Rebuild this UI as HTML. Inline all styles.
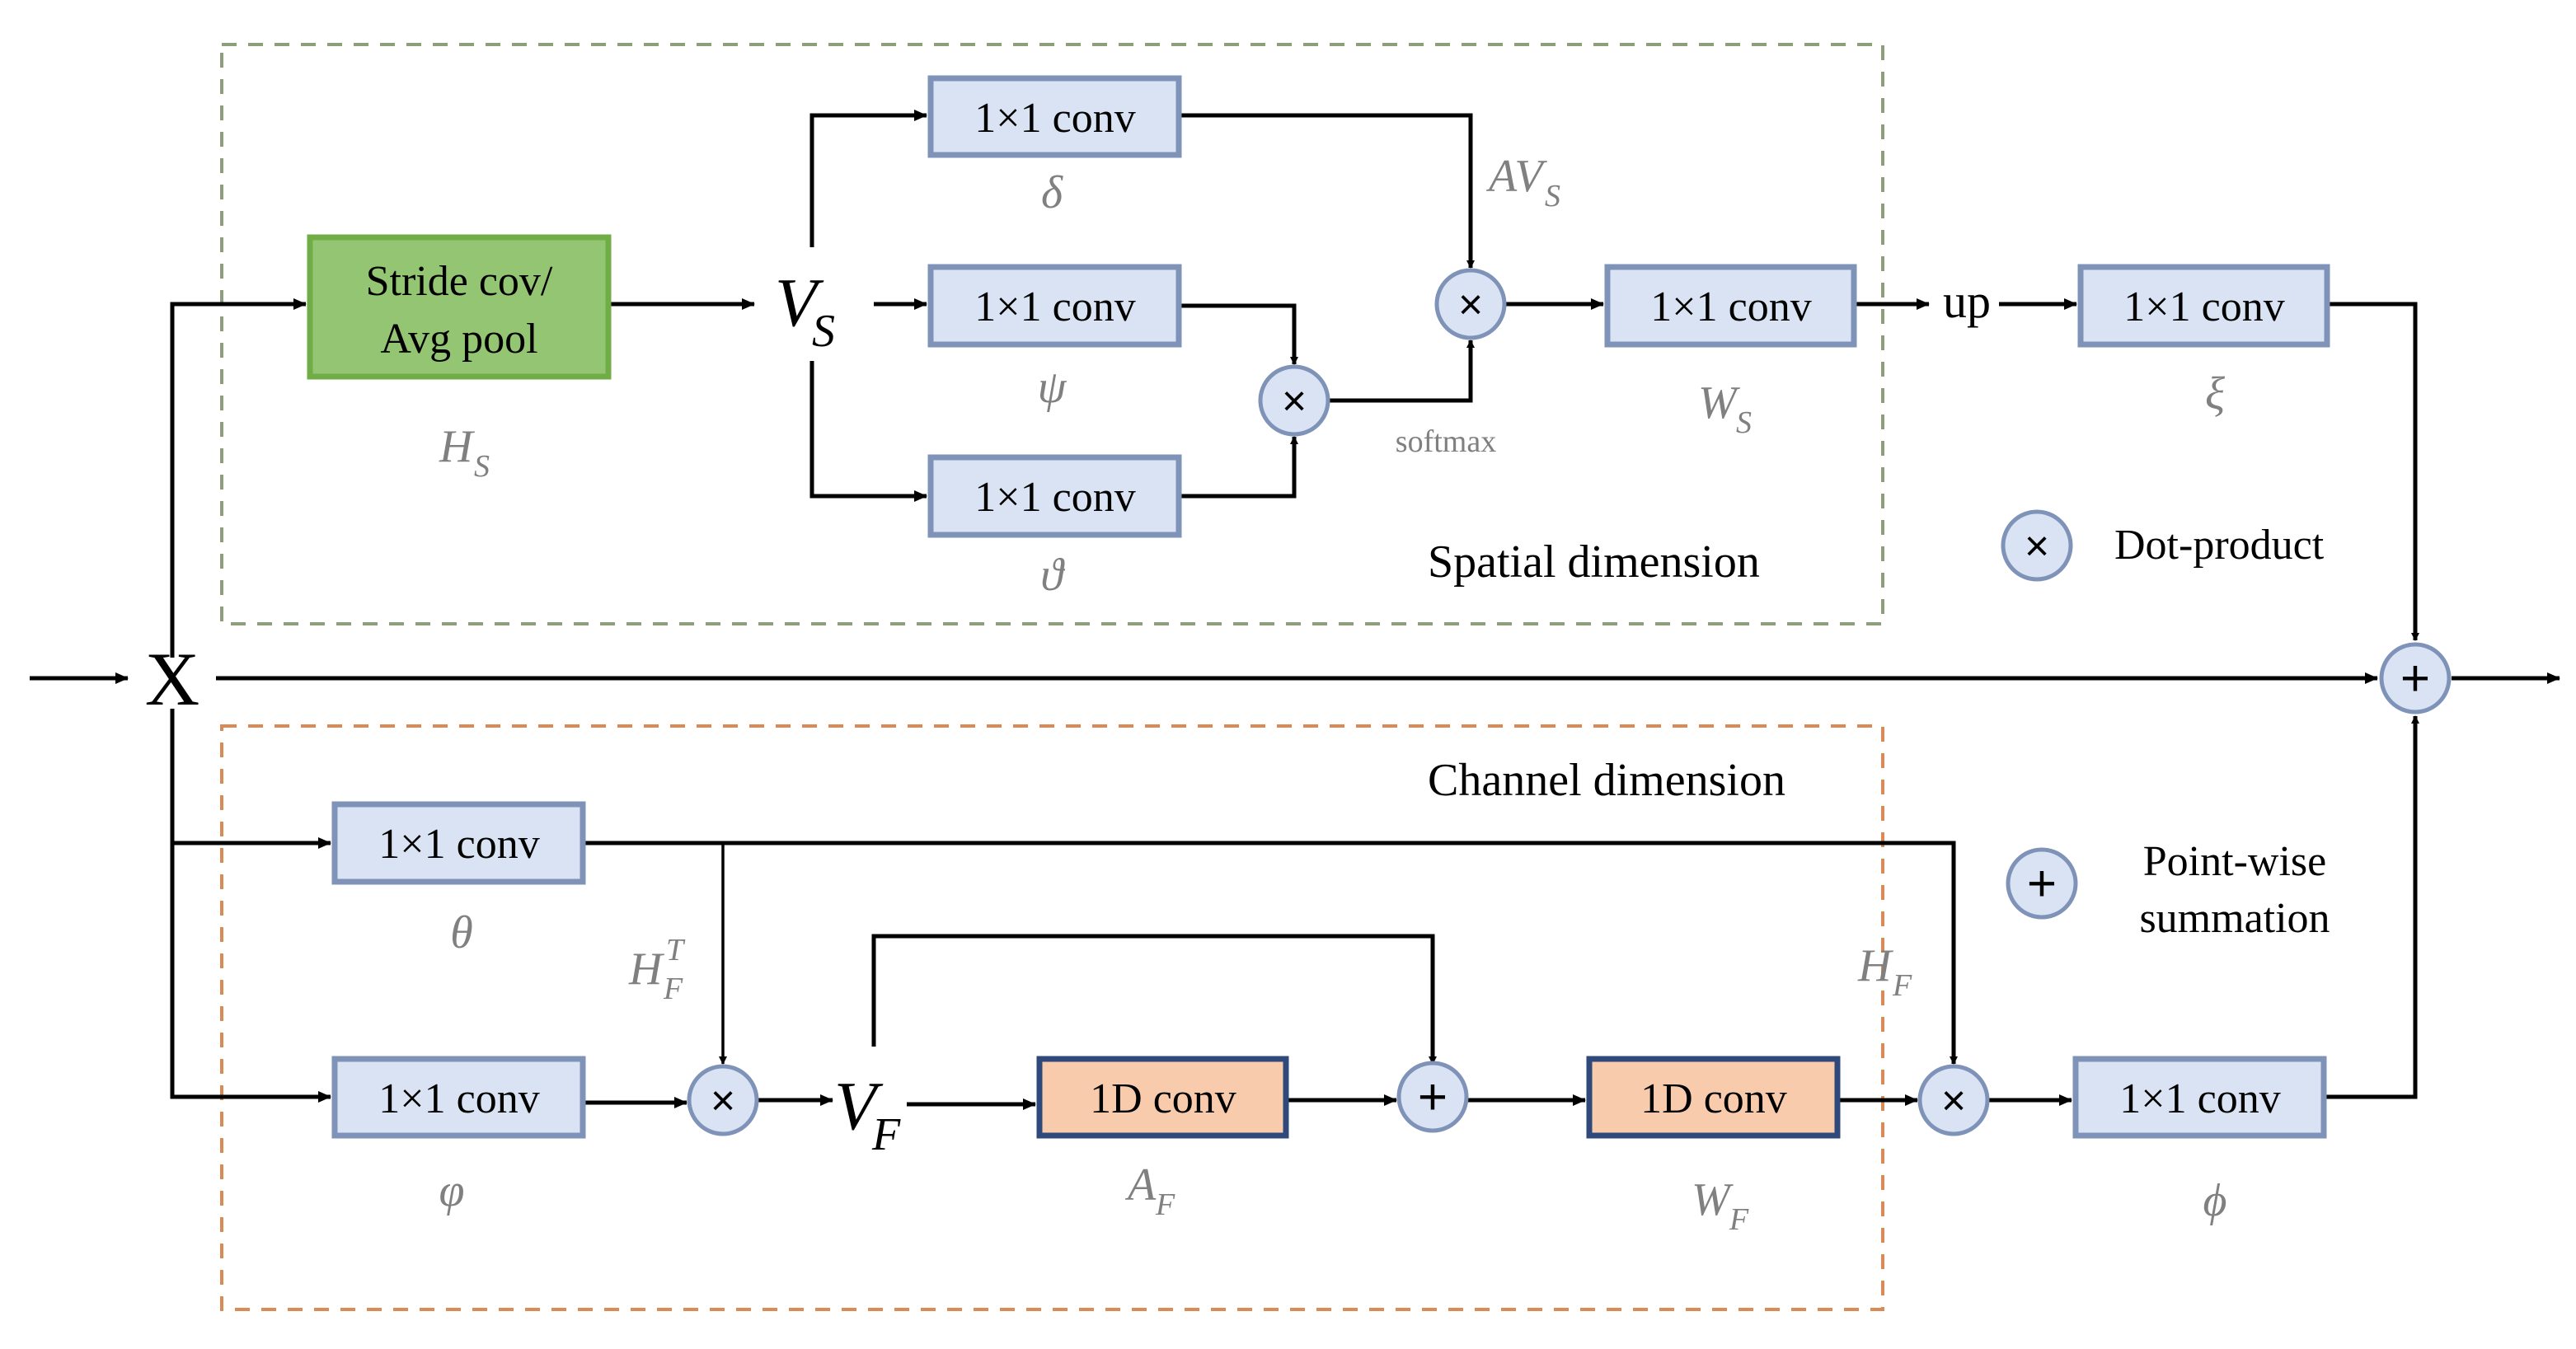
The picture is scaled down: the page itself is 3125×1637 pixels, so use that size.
<!DOCTYPE html>
<html><head><meta charset="utf-8"><style>
html,body{margin:0;padding:0;background:#fff;}
svg{display:block;}
</style></head><body>
<svg width="3125" height="1637" viewBox="0 0 3125 1637" xmlns="http://www.w3.org/2000/svg">
<defs>
<marker id="a" markerWidth="10" markerHeight="10" refX="9" refY="5" orient="auto" markerUnits="userSpaceOnUse" viewBox="0 0 10 10">
<path d="M0,0 L10,5 L0,10 z" fill="#000"/></marker>
<marker id="b" markerWidth="16" markerHeight="16" refX="15" refY="8" orient="auto" markerUnits="userSpaceOnUse" viewBox="0 0 16 16">
<path d="M0,1 L16,8 L0,15 z" fill="#000"/></marker>
</defs>
<rect x="269" y="54" width="2015" height="703" fill="none" stroke="#8a9f7a" stroke-width="4" stroke-dasharray="18,14"/>
<rect x="269" y="881" width="2015" height="708" fill="none" stroke="#d98a55" stroke-width="4" stroke-dasharray="18,14"/>

<g stroke="#000" stroke-width="5" fill="none">
<line x1="36" y1="823" x2="155" y2="823" marker-end="url(#b)"/>
<line x1="262" y1="823" x2="2884" y2="823" marker-end="url(#b)"/>
<line x1="2974" y1="823" x2="3105" y2="823" marker-end="url(#b)"/>
<polyline points="209,798 209,369 371,369" marker-end="url(#b)"/>
<line x1="741" y1="369" x2="915" y2="369" marker-end="url(#b)"/>
<polyline points="985,300 985,140 1124,140" marker-end="url(#b)"/>
<line x1="1060" y1="369" x2="1124" y2="369" marker-end="url(#b)"/>
<polyline points="985,438 985,602 1124,602" marker-end="url(#b)"/>
<polyline points="1433,371 1570,371 1570,442" marker-end="url(#a)"/>
<polyline points="1433,602 1570,602 1570,530" marker-end="url(#a)"/>
<polyline points="1433,140 1784,140 1784,325" marker-end="url(#a)"/>
<polyline points="1612,486 1784,486 1784,413" marker-end="url(#a)"/>
<line x1="1826" y1="369" x2="1945" y2="369" marker-end="url(#b)"/>
<line x1="2252" y1="369" x2="2340" y2="369" marker-end="url(#b)"/>
<line x1="2425" y1="369" x2="2519" y2="369" marker-end="url(#b)"/>
<polyline points="2826,369 2930,369 2930,777" marker-end="url(#a)"/>
<polyline points="209,860 209,1331 401,1331" marker-end="url(#b)"/>
<line x1="209" y1="1023" x2="401" y2="1023" marker-end="url(#b)"/>
<polyline points="710,1023 2370,1023 2370,1291" marker-end="url(#a)"/>
<line x1="877" y1="1023" x2="877" y2="1291" marker-end="url(#a)" stroke-width="3.5"/>
<line x1="710" y1="1338" x2="833" y2="1338" marker-end="url(#b)"/>
<line x1="920" y1="1335" x2="1010" y2="1335" marker-end="url(#b)"/>
<polyline points="1060,1270 1060,1136 1738,1136 1738,1291" marker-end="url(#a)"/>
<line x1="1100" y1="1340" x2="1256" y2="1340" marker-end="url(#b)"/>
<line x1="1563" y1="1335" x2="1694" y2="1335" marker-end="url(#b)"/>
<line x1="1781" y1="1335" x2="1923" y2="1335" marker-end="url(#b)"/>
<line x1="2232" y1="1335" x2="2326" y2="1335" marker-end="url(#b)"/>
<line x1="2412" y1="1335" x2="2513" y2="1335" marker-end="url(#b)"/>
<polyline points="2822,1331 2930,1331 2930,869" marker-end="url(#a)"/>
</g>

<rect x="376" y="288" width="362" height="169" fill="#93c572" stroke="#70ad47" stroke-width="7"/>
<g fill="#dae3f3" stroke="#7f93b8" stroke-width="7">
<rect x="1129" y="95" width="301" height="93"/>
<rect x="1129" y="324" width="301" height="94"/>
<rect x="1129" y="555" width="301" height="94"/>
<rect x="1950" y="324" width="299" height="94"/>
<rect x="2524" y="324" width="299" height="94"/>
<rect x="406" y="976" width="301" height="94"/>
<rect x="406" y="1285" width="301" height="93"/>
<rect x="2518" y="1285" width="301" height="93"/>
</g>
<g fill="#f8cbad" stroke="#2f4a7a" stroke-width="7">
<rect x="1261" y="1285" width="299" height="93"/>
<rect x="1928" y="1285" width="301" height="93"/>
</g>

<g fill="#dae3f3" stroke="#7f93b8" stroke-width="5">
<circle cx="1570" cy="486" r="41"/>
<circle cx="1784" cy="369" r="41"/>
<circle cx="2471" cy="662" r="41"/>
<circle cx="2930" cy="823" r="41"/>
<circle cx="877" cy="1335" r="41"/>
<circle cx="1738" cy="1331" r="41"/>
<circle cx="2370" cy="1335" r="41"/>
<circle cx="2477" cy="1072" r="41"/>
</g>
<g font-family="Liberation Sans, sans-serif" font-size="52" text-anchor="middle" fill="#000">
<text x="1570" y="504">×</text>
<text x="1784" y="387">×</text>
<text x="2471" y="680">×</text>
<text x="877" y="1353">×</text>
<text x="2370" y="1353">×</text>
</g>
<g font-family="Liberation Sans, sans-serif" font-size="62" text-anchor="middle" fill="#000">
<text x="2930" y="844">+</text>
<text x="1738" y="1352">+</text>
<text x="2477" y="1093">+</text>
</g>

<g font-family="Liberation Serif, DejaVu Serif, serif" font-size="52" text-anchor="middle" fill="#000">
<text x="557" y="358">Stride cov/</text>
<text x="557" y="428">Avg pool</text>
<text x="1280" y="160">1×1 conv</text>
<text x="1280" y="389">1×1 conv</text>
<text x="1280" y="620">1×1 conv</text>
<text x="2100" y="389">1×1 conv</text>
<text x="2674" y="389">1×1 conv</text>
<text x="557" y="1041">1×1 conv</text>
<text x="557" y="1350">1×1 conv</text>
<text x="2669" y="1350">1×1 conv</text>
<text x="1411" y="1350">1D conv</text>
<text x="2079" y="1350">1D conv</text>
<text x="2386" y="385" font-size="58">up</text>
<text x="209" y="855" font-size="92">X</text>
</g>
<g font-family="Liberation Serif, DejaVu Serif, serif" font-size="56" fill="#000">
<text x="1732" y="700">Spatial dimension</text>
<text x="1732" y="965">Channel dimension</text>
<text x="2565" y="678" font-size="52">Dot-product</text>
<text x="2711" y="1062" font-size="52" text-anchor="middle">Point-wise</text>
<text x="2711" y="1131" font-size="52" text-anchor="middle">summation</text>
</g>
<g font-family="Liberation Serif, DejaVu Serif, serif" font-style="italic" fill="#000">
<text x="940" y="395" font-size="84">V</text><text x="985" y="420" font-size="56">S</text>
<text x="1012" y="1370" font-size="84">V</text><text x="1058" y="1395" font-size="56">F</text>
</g>
<g font-family="Liberation Serif, DejaVu Serif, serif" font-style="italic" fill="#808080" font-size="56" text-anchor="middle">
<text x="1276" y="252">δ</text>
<text x="1276" y="488">ψ</text>
<text x="1276" y="716">ϑ</text>
<text x="2687" y="496">ξ</text>
<text x="560" y="1150">θ</text>
<text x="548" y="1463">φ</text>
<text x="2687" y="1475">ϕ</text>
<text x="1754" y="548" font-size="38" font-style="normal">softmax</text>
</g>
<g font-family="Liberation Serif, DejaVu Serif, serif" font-style="italic" fill="#808080" font-size="56">
<text x="533" y="560">H</text><text x="575" y="578" font-size="38">S</text>
<text x="1806" y="232">AV</text><text x="1874" y="250" font-size="38">S</text>
<text x="2060" y="507">W</text><text x="2106" y="525" font-size="38">S</text>
<text x="763" y="1194">H</text><text x="805" y="1212" font-size="38">F</text><text x="808" y="1165" font-size="38">T</text>
<text x="2254" y="1190">H</text><text x="2296" y="1208" font-size="38">F</text>
<text x="1368" y="1456">A</text><text x="1402" y="1474" font-size="38">F</text>
<text x="2052" y="1474">W</text><text x="2098" y="1492" font-size="38">F</text>
</g>
</svg>
</body></html>
